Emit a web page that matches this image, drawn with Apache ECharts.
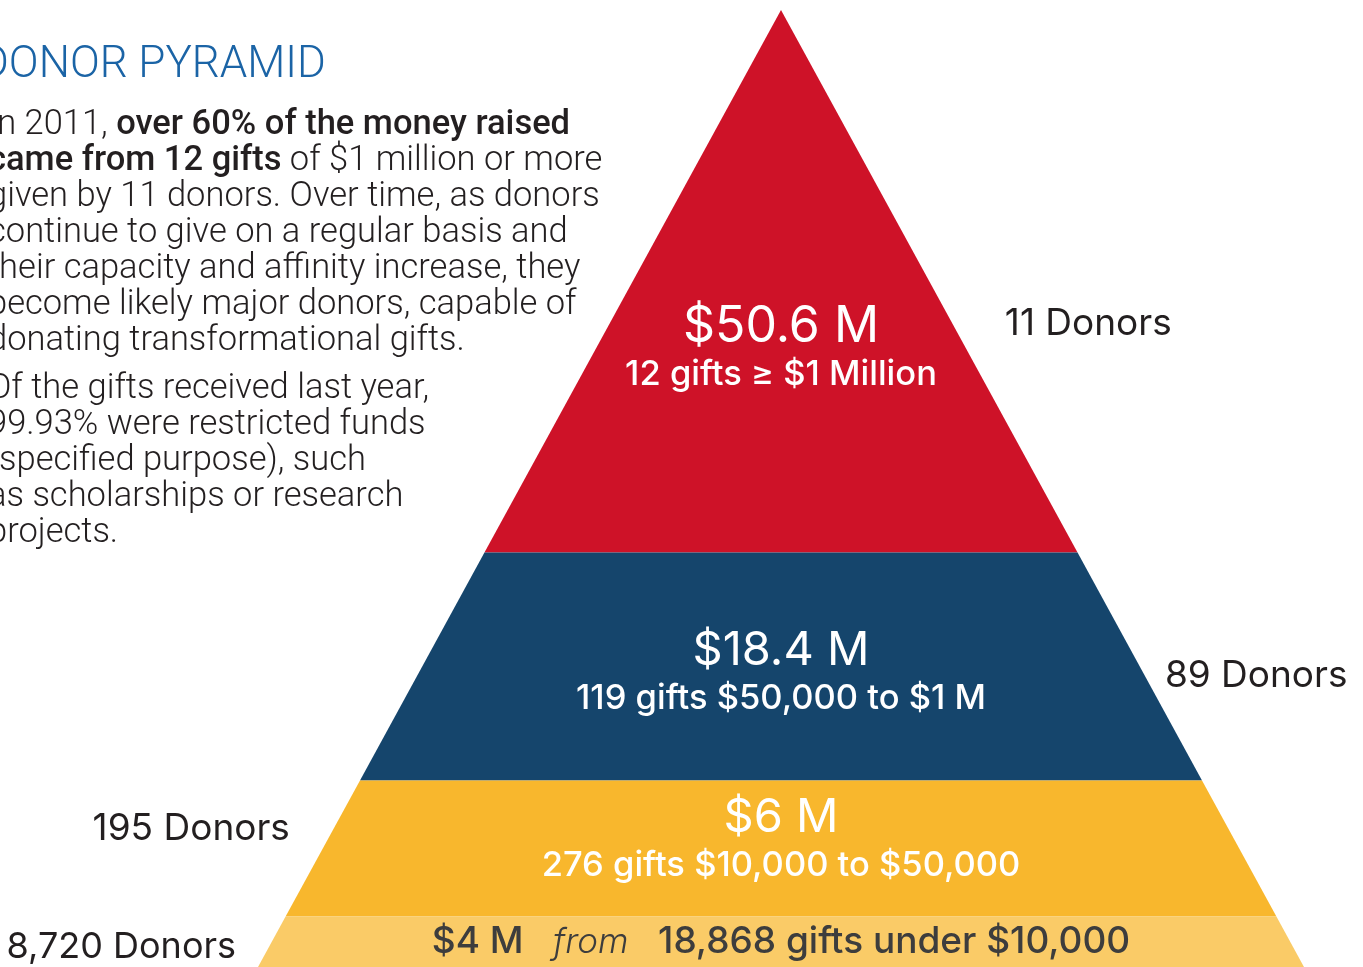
<!DOCTYPE html>
<html>
<head>
<meta charset="utf-8">
<title>Donor Pyramid</title>
<script src="https://cdn.jsdelivr.net/npm/echarts@6/dist/echarts.min.js"></script>
<style>
  html, body { margin: 0; padding: 0; background: #fff; }
  #chart { width: 1363px; height: 967px; }
</style>
</head>
<body>
<div id="chart"></div>
<script>
// tiers, top to bottom
const tiers = ['major', 'leadership', 'mid', 'annual']
const amounts = ['$50.6 M', '$18.4 M', '$6 M', '$4 M']
const gifts = ['12 gifts ≥ $1 Million', '119 gifts $50,000 to $1 M', '276 gifts $10,000 to $50,000', '18,868 gifts under $10,000']
const donors = ['11 Donors', '89 Donors', '195 Donors', '8,720 Donors']
const colors = ['#ce1228', '#15456c', '#f8b72d', '#facb67']

// band edges as depth from the apex (0 = apex, 1 = bottom of picture)
const bandEdges = [0, 0.567, 0.805, 0.947, 1.0]
// label depth for amount / gifts lines
const amountDepth = [0.331, 0.670, 0.844, 0.974]
const giftDepth = [0.381, 0.720, 0.894, 0.974]
// donor label anchor [x, depth, align]
const donorPos = [[0.428, 0.328, 'left'], [0.734, 0.696, 'left'], [-0.939, 0.856, 'right'], [-1.042, 0.979, 'right']]

const introLines = [
  ['In 2011, ', '{b|over 60% of the money raised}'],
  ['{b|came from 12 gifts}', ' of $1 million or more'],
  ['given by 11 donors. Over time, as donors'],
  ['continue to give on a regular basis and'],
  ['their capacity and affinity increase, they'],
  ['become likely major donors, capable of'],
  ['donating transformational gifts.']
]
const noteLines = [
  'Of the gifts received last year,',
  '99.93% were restricted funds',
  '(specified purpose), such',
  'as scholarships or research',
  'projects.'
]

const chart = echarts.init(document.getElementById('chart'))

const FONT = 'Inter, Roboto, sans-serif'
const BODY = 34.5
const bodyText = []
introLines.forEach((parts, i) => {
  bodyText.push({
    type: 'text', x: -12, y: 125 + i * 36,
    style: {
      text: parts.join(''), fontFamily: 'Roboto', fontSize: BODY, fontWeight: 300, fill: '#231f20',
      verticalAlign: 'middle',
      rich: { b: { fontFamily: 'Roboto', fontSize: BODY, fontWeight: 500, fill: '#231f20' } }
    }
  })
})
noteLines.forEach((t, i) => {
  bodyText.push({
    type: 'text', x: -12, y: 389 + i * 36,
    style: { text: t, fontFamily: 'Roboto', fontSize: BODY, fontWeight: 300, fill: '#231f20', verticalAlign: 'middle' }
  })
})

function renderItem(params, api) {
  const i = api.value(0)
  const d0 = bandEdges[i], d1 = bandEdges[i + 1]
  const pts = [api.coord([-d0, d0]), api.coord([d0, d0]), api.coord([d1, d1]), api.coord([-d1, d1])]
  const children = [{
    type: 'polygon',
    shape: { points: pts },
    style: { fill: colors[i] }
  }]
  const dp = api.coord(donorPos[i])
  children.push({
    type: 'text', x: dp[0], y: dp[1],
    style: { text: donors[i], fontFamily: FONT, fontSize: i === 3 ? 36 : 37, fontWeight: 400, fill: '#231f20',
      align: donorPos[i][2], verticalAlign: 'middle' }
  })
  if (i < 3) {
    const a = api.coord([0, amountDepth[i]])
    const g = api.coord([0, giftDepth[i]])
    children.push({
      type: 'text', x: a[0], y: a[1],
      style: { text: amounts[i], fontFamily: FONT, fontSize: i === 0 ? 50 : 47, fontWeight: 400, fill: '#fff',
        align: 'center', verticalAlign: 'middle' }
    })
    children.push({
      type: 'text', x: g[0], y: g[1],
      style: { text: gifts[i], fontFamily: FONT, fontSize: 34.5, fontWeight: 500, fill: '#fff',
        align: 'center', verticalAlign: 'middle' }
    })
  } else {
    const a = api.coord([0, amountDepth[i]])
    children.push({
      type: 'text', x: a[0], y: a[1],
      style: {
        text: '{m|' + amounts[i] + '}{f|   from   }{m|' + gifts[i] + '}',
        align: 'center', verticalAlign: 'middle',
        rich: {
          m: { fontFamily: FONT, fontSize: 37, fontWeight: 500, fill: '#3d3d3d' },
          f: { fontFamily: FONT, fontSize: 35, fontWeight: 300, fontStyle: 'italic', fill: '#3d3d3d' }
        }
      }
    })
  }
  return { type: 'group', children: children }
}

chart.setOption({
  animation: false,
  grid: { left: 258, width: 1046, top: 10, height: 957 },
  xAxis: { type: 'value', min: -1, max: 1, show: false },
  yAxis: { type: 'value', min: 0, max: 1, inverse: true, show: false },
  graphic: [
    {
      type: 'text', x: -20, y: 66,
      style: { text: 'DONOR PYRAMID', fontFamily: 'Roboto', fontSize: 44, fontWeight: 300, fill: '#1b64a6', verticalAlign: 'middle' }
    }
  ].concat(bodyText),
  series: [{
    type: 'custom',
    renderItem: renderItem,
    data: tiers.map((t, i) => [i]),
    silent: true
  }]
})
</script>
</body>
</html>
